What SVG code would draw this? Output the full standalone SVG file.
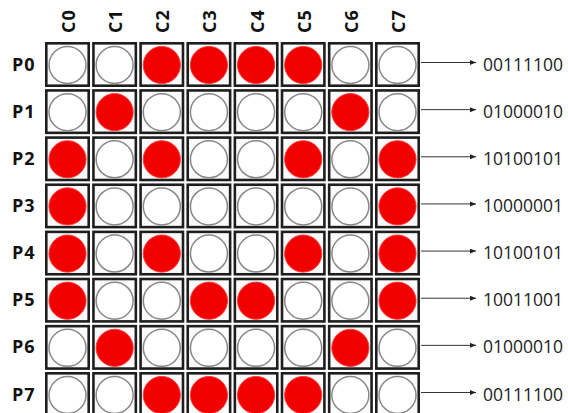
<svg xmlns="http://www.w3.org/2000/svg" width="568" height="413" viewBox="0 0 568 413">
<style>
.box{fill:#fbfbfb;stroke:#1e1e1e;stroke-width:2.6}
.off{fill:#ffffff;stroke:#888888;stroke-width:1.5}
.on{fill:#f20000;stroke:#ff3a3a;stroke-width:1;filter:url(#soft)}
.lbl{font-family:"Open Sans","Liberation Sans",sans-serif;font-weight:bold;font-size:18px;fill:#111;letter-spacing:1px}
.bin{font-family:"Open Sans","Liberation Sans",sans-serif;font-size:17.5px;fill:#222}
.conn{stroke:#333;stroke-width:1;fill:none;marker-end:url(#arr)}
</style>
<defs>
<filter id="soft" x="-10%" y="-10%" width="120%" height="120%"><feGaussianBlur stdDeviation="0.6"/></filter>
<marker id="arr" markerUnits="userSpaceOnUse" markerWidth="7" markerHeight="6" refX="6" refY="2.5" orient="auto"><path d="M0,0 L6,2.5 L0,5 z" fill="#222"/></marker>
</defs>
<rect width="568" height="413" fill="#ffffff"/>
<g id="col-labels" class="lbl" text-anchor="middle">
<text transform="translate(75,21) rotate(-90)">C0</text>
<text transform="translate(122.14,21) rotate(-90)">C1</text>
<text transform="translate(169.29,21) rotate(-90)">C2</text>
<text transform="translate(216.43,21) rotate(-90)">C3</text>
<text transform="translate(263.57,21) rotate(-90)">C4</text>
<text transform="translate(310.71,21) rotate(-90)">C5</text>
<text transform="translate(357.86,21) rotate(-90)">C6</text>
<text transform="translate(405,21) rotate(-90)">C7</text>
</g>
<g id="row-labels" class="lbl">
<text x="12" y="70.5">P0</text>
<text x="12" y="117.64">P1</text>
<text x="12" y="164.79">P2</text>
<text x="12" y="211.93">P3</text>
<text x="12" y="259.07">P4</text>
<text x="12" y="306.21">P5</text>
<text x="12" y="353.36">P6</text>
<text x="12" y="400.5">P7</text>
</g>
<!-- P0 00111100 -->
<g id="p0c0" transform="translate(45,42)"><rect class="box" x="1.3" y="1.3" width="42.4" height="42.4"/><circle class="off" cx="22.5" cy="23" r="18.5"/></g>
<g id="p0c1" transform="translate(92.14,42)"><rect class="box" x="1.3" y="1.3" width="42.4" height="42.4"/><circle class="off" cx="22.5" cy="23" r="18.5"/></g>
<g id="p0c2" transform="translate(139.29,42)"><rect class="box" x="1.3" y="1.3" width="42.4" height="42.4"/><circle class="on" cx="22.5" cy="23" r="18.6"/></g>
<g id="p0c3" transform="translate(186.43,42)"><rect class="box" x="1.3" y="1.3" width="42.4" height="42.4"/><circle class="on" cx="22.5" cy="23" r="18.6"/></g>
<g id="p0c4" transform="translate(233.57,42)"><rect class="box" x="1.3" y="1.3" width="42.4" height="42.4"/><circle class="on" cx="22.5" cy="23" r="18.6"/></g>
<g id="p0c5" transform="translate(280.71,42)"><rect class="box" x="1.3" y="1.3" width="42.4" height="42.4"/><circle class="on" cx="22.5" cy="23" r="18.6"/></g>
<g id="p0c6" transform="translate(327.86,42)"><rect class="box" x="1.3" y="1.3" width="42.4" height="42.4"/><circle class="off" cx="22.5" cy="23" r="18.5"/></g>
<g id="p0c7" transform="translate(375,42)"><rect class="box" x="1.3" y="1.3" width="42.4" height="42.4"/><circle class="off" cx="22.5" cy="23" r="18.5"/></g>
<!-- P1 01000010 -->
<g id="p1c0" transform="translate(45,89.14)"><rect class="box" x="1.3" y="1.3" width="42.4" height="42.4"/><circle class="off" cx="22.5" cy="23" r="18.5"/></g>
<g id="p1c1" transform="translate(92.14,89.14)"><rect class="box" x="1.3" y="1.3" width="42.4" height="42.4"/><circle class="on" cx="22.5" cy="23" r="18.6"/></g>
<g id="p1c2" transform="translate(139.29,89.14)"><rect class="box" x="1.3" y="1.3" width="42.4" height="42.4"/><circle class="off" cx="22.5" cy="23" r="18.5"/></g>
<g id="p1c3" transform="translate(186.43,89.14)"><rect class="box" x="1.3" y="1.3" width="42.4" height="42.4"/><circle class="off" cx="22.5" cy="23" r="18.5"/></g>
<g id="p1c4" transform="translate(233.57,89.14)"><rect class="box" x="1.3" y="1.3" width="42.4" height="42.4"/><circle class="off" cx="22.5" cy="23" r="18.5"/></g>
<g id="p1c5" transform="translate(280.71,89.14)"><rect class="box" x="1.3" y="1.3" width="42.4" height="42.4"/><circle class="off" cx="22.5" cy="23" r="18.5"/></g>
<g id="p1c6" transform="translate(327.86,89.14)"><rect class="box" x="1.3" y="1.3" width="42.4" height="42.4"/><circle class="on" cx="22.5" cy="23" r="18.6"/></g>
<g id="p1c7" transform="translate(375,89.14)"><rect class="box" x="1.3" y="1.3" width="42.4" height="42.4"/><circle class="off" cx="22.5" cy="23" r="18.5"/></g>
<!-- P2 10100101 -->
<g id="p2c0" transform="translate(45,136.29)"><rect class="box" x="1.3" y="1.3" width="42.4" height="42.4"/><circle class="on" cx="22.5" cy="23" r="18.6"/></g>
<g id="p2c1" transform="translate(92.14,136.29)"><rect class="box" x="1.3" y="1.3" width="42.4" height="42.4"/><circle class="off" cx="22.5" cy="23" r="18.5"/></g>
<g id="p2c2" transform="translate(139.29,136.29)"><rect class="box" x="1.3" y="1.3" width="42.4" height="42.4"/><circle class="on" cx="22.5" cy="23" r="18.6"/></g>
<g id="p2c3" transform="translate(186.43,136.29)"><rect class="box" x="1.3" y="1.3" width="42.4" height="42.4"/><circle class="off" cx="22.5" cy="23" r="18.5"/></g>
<g id="p2c4" transform="translate(233.57,136.29)"><rect class="box" x="1.3" y="1.3" width="42.4" height="42.4"/><circle class="off" cx="22.5" cy="23" r="18.5"/></g>
<g id="p2c5" transform="translate(280.71,136.29)"><rect class="box" x="1.3" y="1.3" width="42.4" height="42.4"/><circle class="on" cx="22.5" cy="23" r="18.6"/></g>
<g id="p2c6" transform="translate(327.86,136.29)"><rect class="box" x="1.3" y="1.3" width="42.4" height="42.4"/><circle class="off" cx="22.5" cy="23" r="18.5"/></g>
<g id="p2c7" transform="translate(375,136.29)"><rect class="box" x="1.3" y="1.3" width="42.4" height="42.4"/><circle class="on" cx="22.5" cy="23" r="18.6"/></g>
<!-- P3 10000001 -->
<g id="p3c0" transform="translate(45,183.43)"><rect class="box" x="1.3" y="1.3" width="42.4" height="42.4"/><circle class="on" cx="22.5" cy="23" r="18.6"/></g>
<g id="p3c1" transform="translate(92.14,183.43)"><rect class="box" x="1.3" y="1.3" width="42.4" height="42.4"/><circle class="off" cx="22.5" cy="23" r="18.5"/></g>
<g id="p3c2" transform="translate(139.29,183.43)"><rect class="box" x="1.3" y="1.3" width="42.4" height="42.4"/><circle class="off" cx="22.5" cy="23" r="18.5"/></g>
<g id="p3c3" transform="translate(186.43,183.43)"><rect class="box" x="1.3" y="1.3" width="42.4" height="42.4"/><circle class="off" cx="22.5" cy="23" r="18.5"/></g>
<g id="p3c4" transform="translate(233.57,183.43)"><rect class="box" x="1.3" y="1.3" width="42.4" height="42.4"/><circle class="off" cx="22.5" cy="23" r="18.5"/></g>
<g id="p3c5" transform="translate(280.71,183.43)"><rect class="box" x="1.3" y="1.3" width="42.4" height="42.4"/><circle class="off" cx="22.5" cy="23" r="18.5"/></g>
<g id="p3c6" transform="translate(327.86,183.43)"><rect class="box" x="1.3" y="1.3" width="42.4" height="42.4"/><circle class="off" cx="22.5" cy="23" r="18.5"/></g>
<g id="p3c7" transform="translate(375,183.43)"><rect class="box" x="1.3" y="1.3" width="42.4" height="42.4"/><circle class="on" cx="22.5" cy="23" r="18.6"/></g>
<!-- P4 10100101 -->
<g id="p4c0" transform="translate(45,230.57)"><rect class="box" x="1.3" y="1.3" width="42.4" height="42.4"/><circle class="on" cx="22.5" cy="23" r="18.6"/></g>
<g id="p4c1" transform="translate(92.14,230.57)"><rect class="box" x="1.3" y="1.3" width="42.4" height="42.4"/><circle class="off" cx="22.5" cy="23" r="18.5"/></g>
<g id="p4c2" transform="translate(139.29,230.57)"><rect class="box" x="1.3" y="1.3" width="42.4" height="42.4"/><circle class="on" cx="22.5" cy="23" r="18.6"/></g>
<g id="p4c3" transform="translate(186.43,230.57)"><rect class="box" x="1.3" y="1.3" width="42.4" height="42.4"/><circle class="off" cx="22.5" cy="23" r="18.5"/></g>
<g id="p4c4" transform="translate(233.57,230.57)"><rect class="box" x="1.3" y="1.3" width="42.4" height="42.4"/><circle class="off" cx="22.5" cy="23" r="18.5"/></g>
<g id="p4c5" transform="translate(280.71,230.57)"><rect class="box" x="1.3" y="1.3" width="42.4" height="42.4"/><circle class="on" cx="22.5" cy="23" r="18.6"/></g>
<g id="p4c6" transform="translate(327.86,230.57)"><rect class="box" x="1.3" y="1.3" width="42.4" height="42.4"/><circle class="off" cx="22.5" cy="23" r="18.5"/></g>
<g id="p4c7" transform="translate(375,230.57)"><rect class="box" x="1.3" y="1.3" width="42.4" height="42.4"/><circle class="on" cx="22.5" cy="23" r="18.6"/></g>
<!-- P5 10011001 -->
<g id="p5c0" transform="translate(45,277.71)"><rect class="box" x="1.3" y="1.3" width="42.4" height="42.4"/><circle class="on" cx="22.5" cy="23" r="18.6"/></g>
<g id="p5c1" transform="translate(92.14,277.71)"><rect class="box" x="1.3" y="1.3" width="42.4" height="42.4"/><circle class="off" cx="22.5" cy="23" r="18.5"/></g>
<g id="p5c2" transform="translate(139.29,277.71)"><rect class="box" x="1.3" y="1.3" width="42.4" height="42.4"/><circle class="off" cx="22.5" cy="23" r="18.5"/></g>
<g id="p5c3" transform="translate(186.43,277.71)"><rect class="box" x="1.3" y="1.3" width="42.4" height="42.4"/><circle class="on" cx="22.5" cy="23" r="18.6"/></g>
<g id="p5c4" transform="translate(233.57,277.71)"><rect class="box" x="1.3" y="1.3" width="42.4" height="42.4"/><circle class="on" cx="22.5" cy="23" r="18.6"/></g>
<g id="p5c5" transform="translate(280.71,277.71)"><rect class="box" x="1.3" y="1.3" width="42.4" height="42.4"/><circle class="off" cx="22.5" cy="23" r="18.5"/></g>
<g id="p5c6" transform="translate(327.86,277.71)"><rect class="box" x="1.3" y="1.3" width="42.4" height="42.4"/><circle class="off" cx="22.5" cy="23" r="18.5"/></g>
<g id="p5c7" transform="translate(375,277.71)"><rect class="box" x="1.3" y="1.3" width="42.4" height="42.4"/><circle class="on" cx="22.5" cy="23" r="18.6"/></g>
<!-- P6 01000010 -->
<g id="p6c0" transform="translate(45,324.86)"><rect class="box" x="1.3" y="1.3" width="42.4" height="42.4"/><circle class="off" cx="22.5" cy="23" r="18.5"/></g>
<g id="p6c1" transform="translate(92.14,324.86)"><rect class="box" x="1.3" y="1.3" width="42.4" height="42.4"/><circle class="on" cx="22.5" cy="23" r="18.6"/></g>
<g id="p6c2" transform="translate(139.29,324.86)"><rect class="box" x="1.3" y="1.3" width="42.4" height="42.4"/><circle class="off" cx="22.5" cy="23" r="18.5"/></g>
<g id="p6c3" transform="translate(186.43,324.86)"><rect class="box" x="1.3" y="1.3" width="42.4" height="42.4"/><circle class="off" cx="22.5" cy="23" r="18.5"/></g>
<g id="p6c4" transform="translate(233.57,324.86)"><rect class="box" x="1.3" y="1.3" width="42.4" height="42.4"/><circle class="off" cx="22.5" cy="23" r="18.5"/></g>
<g id="p6c5" transform="translate(280.71,324.86)"><rect class="box" x="1.3" y="1.3" width="42.4" height="42.4"/><circle class="off" cx="22.5" cy="23" r="18.5"/></g>
<g id="p6c6" transform="translate(327.86,324.86)"><rect class="box" x="1.3" y="1.3" width="42.4" height="42.4"/><circle class="on" cx="22.5" cy="23" r="18.6"/></g>
<g id="p6c7" transform="translate(375,324.86)"><rect class="box" x="1.3" y="1.3" width="42.4" height="42.4"/><circle class="off" cx="22.5" cy="23" r="18.5"/></g>
<!-- P7 00111100 -->
<g id="p7c0" transform="translate(45,372)"><rect class="box" x="1.3" y="1.3" width="42.4" height="42.4"/><circle class="off" cx="22.5" cy="23" r="18.5"/></g>
<g id="p7c1" transform="translate(92.14,372)"><rect class="box" x="1.3" y="1.3" width="42.4" height="42.4"/><circle class="off" cx="22.5" cy="23" r="18.5"/></g>
<g id="p7c2" transform="translate(139.29,372)"><rect class="box" x="1.3" y="1.3" width="42.4" height="42.4"/><circle class="on" cx="22.5" cy="23" r="18.6"/></g>
<g id="p7c3" transform="translate(186.43,372)"><rect class="box" x="1.3" y="1.3" width="42.4" height="42.4"/><circle class="on" cx="22.5" cy="23" r="18.6"/></g>
<g id="p7c4" transform="translate(233.57,372)"><rect class="box" x="1.3" y="1.3" width="42.4" height="42.4"/><circle class="on" cx="22.5" cy="23" r="18.6"/></g>
<g id="p7c5" transform="translate(280.71,372)"><rect class="box" x="1.3" y="1.3" width="42.4" height="42.4"/><circle class="on" cx="22.5" cy="23" r="18.6"/></g>
<g id="p7c6" transform="translate(327.86,372)"><rect class="box" x="1.3" y="1.3" width="42.4" height="42.4"/><circle class="off" cx="22.5" cy="23" r="18.5"/></g>
<g id="p7c7" transform="translate(375,372)"><rect class="box" x="1.3" y="1.3" width="42.4" height="42.4"/><circle class="off" cx="22.5" cy="23" r="18.5"/></g>
<g id="connectors">
<line class="conn" x1="421" y1="62.5" x2="476" y2="62.5"/>
<line class="conn" x1="421" y1="109.64" x2="476" y2="109.64"/>
<line class="conn" x1="421" y1="156.79" x2="476" y2="156.79"/>
<line class="conn" x1="421" y1="203.93" x2="476" y2="203.93"/>
<line class="conn" x1="421" y1="251.07" x2="476" y2="251.07"/>
<line class="conn" x1="421" y1="298.21" x2="476" y2="298.21"/>
<line class="conn" x1="421" y1="345.36" x2="476" y2="345.36"/>
<line class="conn" x1="421" y1="392.5" x2="476" y2="392.5"/>
</g>
<g id="outputs" class="bin">
<text x="483" y="70.5">00111100</text>
<text x="483" y="117.64">01000010</text>
<text x="483" y="164.79">10100101</text>
<text x="483" y="211.93">10000001</text>
<text x="483" y="259.07">10100101</text>
<text x="483" y="306.21">10011001</text>
<text x="483" y="353.36">01000010</text>
<text x="483" y="400.5">00111100</text>
</g>
</svg>
